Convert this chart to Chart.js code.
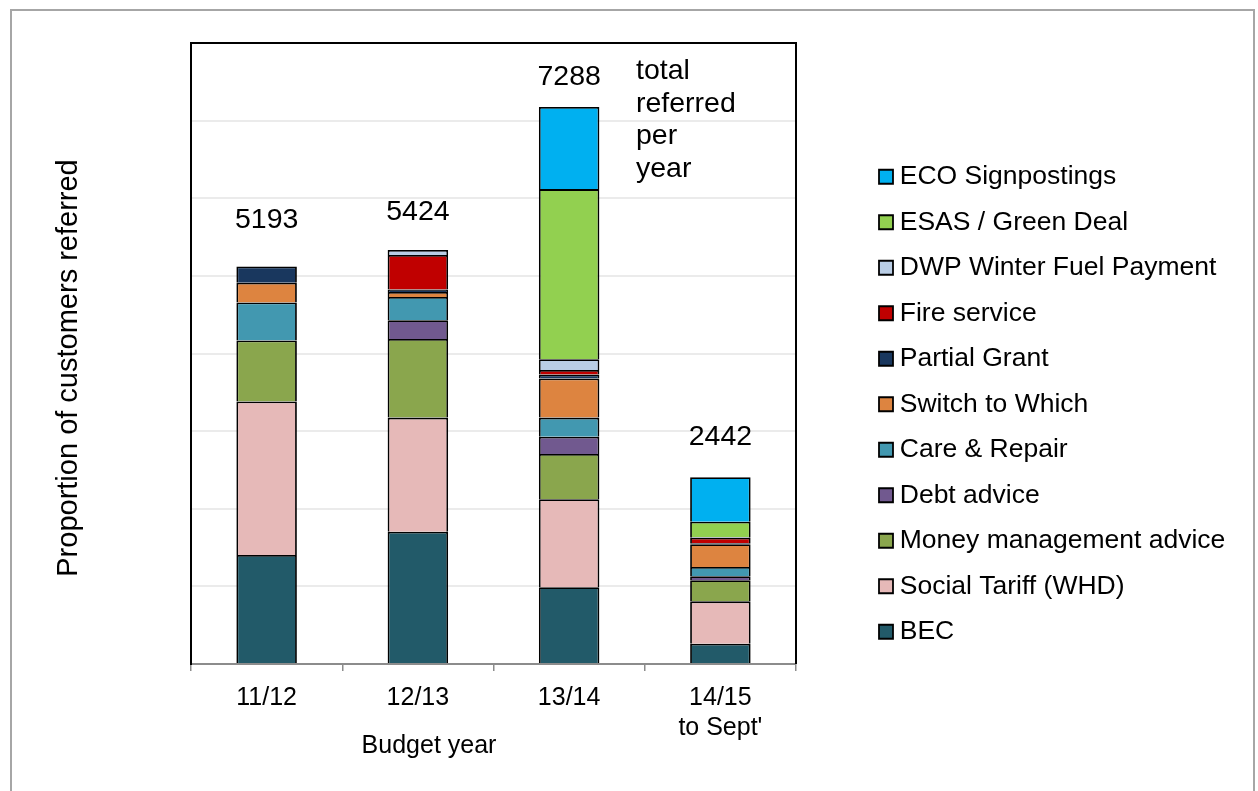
<!DOCTYPE html>
<html>
<head>
<meta charset="utf-8">
<script src="https://cdn.jsdelivr.net/npm/chart.js@4/dist/chart.umd.min.js"></script>
<style>
  html, body { margin: 0; padding: 0; background: #fff; }
  #wrap { width: 1258px; height: 791px; }
</style>
</head>
<body>
<div id="wrap"><canvas id="refChart" width="1258" height="791"></canvas></div>
<script>
// budget years and totals shown over each bar
var years = ['11/12', '12/13', '13/14', ['14/15', "to Sept'"]];
var totals = [5193, 5424, 7288, 2442];

// referrals per service
var bec          = [1405, 1705,  988, 262];
var socialTariff = [1976, 1469, 1134, 545];
var moneyAdvice  = [ 786, 1014,  584, 271];
var debtAdvice   = [   0,  241,  223,  52];
var careRepair   = [ 490,  300,  245, 120];
var switchWhich  = [ 254,   64,  503, 292];
var partialGrant = [ 210,   30,   52,  15];
var fireService  = [   0,  447,   60,  70];
var dwpFuel      = [   0,   64,  138,  10];
var esasGreen    = [   0,    0, 2191, 197];
var ecoSign      = [   0,    0, 1057, 571];

var FONT = "'Liberation Sans', Arial, sans-serif";

function ds(label, data, color) {
    return {
        label: label,
        data: data,
        backgroundColor: color,
        borderColor: '#000',
        borderWidth: 1.8,
        categoryPercentage: 1,
        barPercentage: 0.4
    };
}

var barData = {
    labels: years,
    datasets: [
        ds('BEC', bec, '#225a69'),
        ds('Social Tariff (WHD)', socialTariff, '#e6b9b8'),
        ds('Money management advice', moneyAdvice, '#8aa64d'),
        ds('Debt advice', debtAdvice, '#71598f'),
        ds('Care & Repair', careRepair, '#4298b0'),
        ds('Switch to Which', switchWhich, '#dd8440'),
        ds('Partial Grant', partialGrant, '#19375e'),
        ds('Fire service', fireService, '#c00000'),
        ds('DWP Winter Fuel Payment', dwpFuel, '#b9cde5'),
        ds('ESAS / Green Deal', esasGreen, '#92d050'),
        ds('ECO Signpostings', ecoSign, '#00b0f0')
    ]
};

// outer frame, plot box, totals and axis titles
var decorations = {
    id: 'decorations',
    beforeInit: function(chart) {
        var fit = chart.legend.fit;
        chart.legend.fit = function() {
            var mh = this.maxHeight;
            this.maxHeight = 5000; // keep all items in one column
            fit.call(this);
            this.maxHeight = mh;
            this.height = mh;
            this.width = 391.5;
        };
    },
    beforeDraw: function(chart) {
        var c = chart.ctx;
        c.save();
        c.fillStyle = '#fff';
        c.fillRect(0, 0, chart.width, chart.height);
        c.strokeStyle = '#a6a6a6';
        c.lineWidth = 2;
        c.strokeRect(11, 10, 1243, 800);
        c.restore();
    },
    afterDatasetsDraw: function(chart) {
        var c = chart.ctx, a = chart.chartArea;
        c.save();
        c.strokeStyle = '#000';
        c.lineWidth = 2;
        c.beginPath();
        c.moveTo(a.left, a.top);
        c.lineTo(a.right, a.top);
        c.lineTo(a.right, a.bottom);
        c.stroke();
        c.restore();
    },
    afterDraw: function(chart) {
        var c = chart.ctx;
        var x = chart.scales.x, y = chart.scales.y;
        var lift = [46, 38, 30, 40];
        c.save();
        c.fillStyle = '#000';
        c.textAlign = 'center';
        c.textBaseline = 'middle';
        c.font = '28.5px ' + FONT;
        totals.forEach(function(t, i) {
            var sum = 0;
            barData.datasets.forEach(function(d) { sum += d.data[i]; });
            c.fillText(String(t), x.getPixelForValue(i), y.getPixelForValue(sum) - lift[i]);
        });
        c.textAlign = 'left';
        c.textBaseline = 'alphabetic';
        ['total', 'referred', 'per', 'year'].forEach(function(s, i) {
            c.fillText(s, 636, 79 + i * 32.7);
        });
        c.font = '25px ' + FONT;
        c.textAlign = 'center';
        c.textBaseline = 'middle';
        c.fillText('Budget year', 429, 746);
        c.font = '29px ' + FONT;
        c.translate(69, 368);
        c.rotate(-Math.PI / 2);
        c.fillText('Proportion of customers referred', 0, 0);
        c.restore();
    }
};

var barOptions = {
    responsive: false,
    animation: false,
    layout: { padding: { top: 43, left: 0, right: 0, bottom: 0 } },
    plugins: {
        legend: {
            position: 'right',
            align: 'end',
            fullSize: false,
            reverse: true,
            labels: {
                usePointStyle: true,
                pointStyle: 'rect',
                boxWidth: 1,
                boxHeight: 14,
                padding: 19,
                color: '#000',
                font: { family: FONT, size: 26.5 }
            }
        },
        tooltip: { enabled: false }
    },
    scales: {
        x: {
            stacked: true,
            grid: { drawOnChartArea: false, tickLength: 7, color: '#8c8c8c', lineWidth: 1.5 },
            border: { color: '#8c8c8c', width: 2 },
            ticks: { color: '#000', padding: 12, font: { family: FONT, size: 25, lineHeight: 1.2 } },
            afterFit: function(s) { s.height = 127; }
        },
        y: {
            stacked: true,
            min: 0,
            max: 8000,
            ticks: { display: false, stepSize: 1000 },
            grid: { color: '#ebebeb', lineWidth: 2, drawTicks: false },
            border: { color: '#000', width: 2 },
            afterFit: function(s) { s.width = 191; }
        },
        gap: {
            position: 'right',
            display: true,
            grid: { display: false },
            border: { display: false },
            ticks: { display: false },
            afterFit: function(s) { s.width = 70.5; }
        }
    }
};

var ctx = document.getElementById('refChart').getContext('2d');
new Chart(ctx, { type: 'bar', data: barData, options: barOptions, plugins: [decorations] });
</script>
</body>
</html>
